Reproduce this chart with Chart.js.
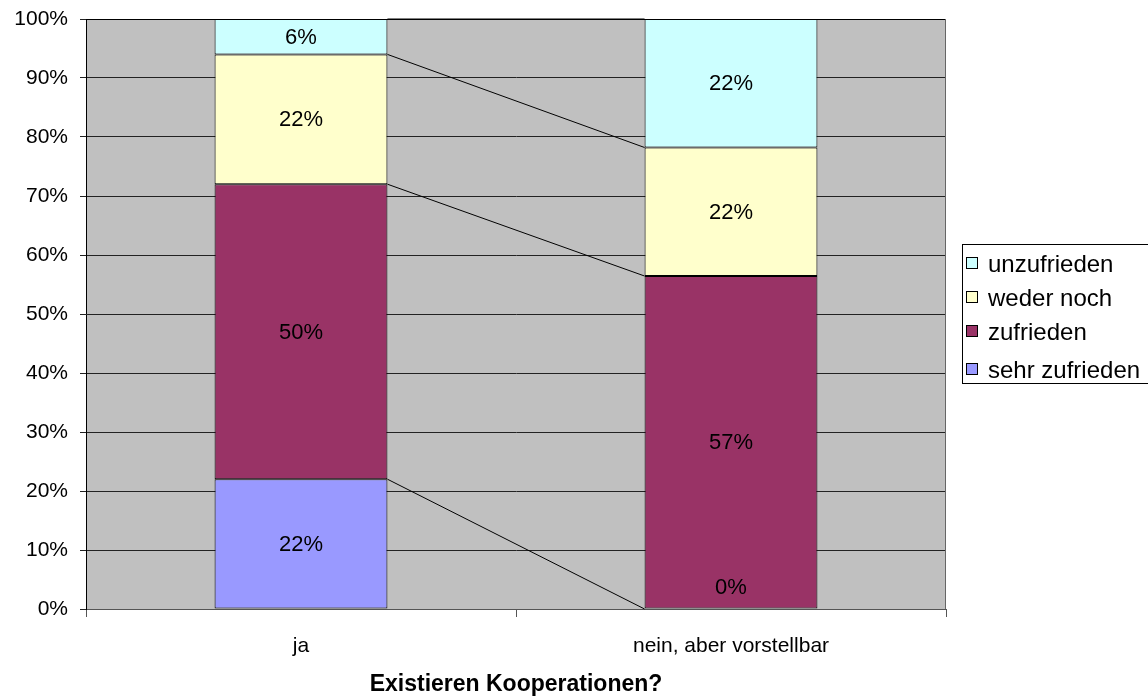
<!DOCTYPE html>
<html>
<head>
<meta charset="utf-8">
<script src="https://cdn.jsdelivr.net/npm/chart.js@4/dist/chart.umd.min.js"></script>
<style>
  html, body { margin: 0; padding: 0; background: #ffffff; }
  #wrap { width: 1148px; height: 698px; position: relative; }
</style>
</head>
<body>
<div id="wrap"><canvas id="c" width="1148" height="698"></canvas></div>
<script>
// Survey answers per group (percent labels as reported)
const categories = ['ja', 'nein, aber vorstellbar'];
const seriesNames = ['sehr zufrieden', 'zufrieden', 'weder noch', 'unzufrieden'];
const sehrZufrieden = [22, 0];
const zufrieden = [50, 57];
const wederNoch = [22, 22];
const unzufrieden = [6, 22];
const yTickLabels = ['0%', '10%', '20%', '30%', '40%', '50%', '60%', '70%', '80%', '90%', '100%'];
const axisTitle = 'Existieren Kooperationen?';

const FONT = "'Liberation Sans', Arial, Helvetica, sans-serif";
const seriesRaw = [sehrZufrieden, zufrieden, wederNoch, unzufrieden];
const fills = ['#9999FF', '#993366', '#FFFFCC', '#CCFFFF'];

// 100% stacked: each column is scaled to its own total
const totals = categories.map((_, i) => seriesRaw.reduce((s, arr) => s + arr[i], 0));
const shares = seriesRaw.map(arr => arr.map((v, i) => v / totals[i] * 100));

const plotBackground = {
  id: 'plotBackground',
  beforeDraw(chart) {
    const { ctx, chartArea: a } = chart;
    ctx.save();
    ctx.fillStyle = '#C0C0C0';
    ctx.fillRect(a.left, a.top, a.right - a.left, a.bottom - a.top);
    ctx.restore();
  },
  afterDraw(chart) {
    const { ctx, chartArea: a } = chart;
    ctx.save();
    ctx.lineWidth = 1;
    ctx.strokeStyle = '#000';
    ctx.beginPath();
    ctx.moveTo(a.left, a.top + 0.5);
    ctx.lineTo(a.right, a.top + 0.5);
    ctx.stroke();
    ctx.strokeStyle = '#666';
    ctx.beginPath();
    ctx.moveTo(a.right - 0.5, a.top);
    ctx.lineTo(a.right - 0.5, a.bottom);
    ctx.stroke();
    ctx.restore();
  }
};

// connector lines between the stacked segment tops of neighbouring columns
const seriesLines = {
  id: 'seriesLines',
  afterDatasetsDraw(chart) {
    const { ctx } = chart;
    ctx.save();
    ctx.strokeStyle = '#000';
    ctx.lineWidth = 1;
    chart.data.datasets.forEach((ds, di) => {
      const bars = chart.getDatasetMeta(di).data;
      for (let i = 0; i < bars.length - 1; i++) {
        const a = bars[i], b = bars[i + 1];
        ctx.beginPath();
        ctx.moveTo(a.x + a.width / 2, a.y);
        ctx.lineTo(b.x - b.width / 2, b.y);
        ctx.stroke();
      }
    });
    ctx.restore();
  }
};

const segmentLabels = {
  id: 'segmentLabels',
  afterDatasetsDraw(chart) {
    const { ctx } = chart;
    ctx.save();
    ctx.font = '22px ' + FONT;
    ctx.fillStyle = '#000';
    ctx.textAlign = 'center';
    ctx.textBaseline = 'middle';
    chart.data.datasets.forEach((ds, di) => {
      chart.getDatasetMeta(di).data.forEach((bar, i) => {
        const raw = seriesRaw[di][i];
        let y = (bar.y + bar.base) / 2;
        if (bar.base - bar.y < 30) y = bar.base - 22;
        ctx.fillText(raw + '%', bar.x, y + 1);
      });
    });
    ctx.restore();
  }
};

const boxLegend = {
  id: 'boxLegend',
  afterDraw(chart) {
    const { ctx } = chart;
    ctx.save();
    ctx.fillStyle = '#fff';
    ctx.fillRect(962, 244, 190, 139);
    ctx.strokeStyle = '#000';
    ctx.lineWidth = 1;
    ctx.strokeRect(962.5, 244.5, 190, 139);
    ctx.font = '24px ' + FONT;
    ctx.textAlign = 'left';
    ctx.textBaseline = 'middle';
    const rows = [3, 2, 1, 0];
    const ys = [264, 298, 332, 370];
    rows.forEach((si, k) => {
      const y = ys[k];
      ctx.fillStyle = fills[si];
      ctx.fillRect(966, y - 7, 12, 12);
      ctx.strokeStyle = '#000';
      ctx.strokeRect(966.5, y - 6.5, 11, 11);
      ctx.fillStyle = '#000';
      ctx.fillText(seriesNames[si], 988, y + 1);
    });
    ctx.restore();
  }
};

new Chart(document.getElementById('c'), {
  type: 'bar',
  data: {
    labels: categories,
    datasets: seriesNames.map((name, si) => ({
      label: name,
      data: shares[si],
      backgroundColor: fills[si],
      borderColor: '#000',
      borderWidth: 1,
      borderSkipped: false,
      categoryPercentage: 0.402,
      barPercentage: 1
    }))
  },
  options: {
    responsive: false,
    animation: false,
    devicePixelRatio: 1,
    layout: { padding: { left: 0, top: 19, right: 202, bottom: 0 } },
    plugins: {
      legend: { display: false },
      tooltip: { enabled: false }
    },
    scales: {
      x: {
        stacked: true,
        grid: { drawOnChartArea: false, drawTicks: true, tickLength: 8, color: '#555', offset: true },
        border: { display: true, color: '#555' },
        ticks: { color: '#000', font: { family: FONT, size: 21 }, padding: 17 },
        title: {
          display: true, text: axisTitle, color: '#000',
          font: { family: FONT, size: 23, weight: 'bold' },
          padding: { top: 0, bottom: 0 }
        },
        afterFit(s) { s.height = 89; s.paddingLeft = 0; s.paddingRight = 0; }
      },
      y: {
        stacked: true,
        min: 0, max: 100,
        grid: { color: '#222', tickLength: 6, drawTicks: true },
        border: { display: true, color: '#000' },
        ticks: {
          stepSize: 10, color: '#000', padding: 12,
          font: { family: FONT, size: 21 },
          callback: (v) => yTickLabels[Math.round(v / 10)]
        },
        afterFit(s) { s.width = 86; s.paddingTop = 0; s.paddingBottom = 0; }
      }
    }
  },
  plugins: [plotBackground, seriesLines, segmentLabels, boxLegend]
});
</script>
</body>
</html>
